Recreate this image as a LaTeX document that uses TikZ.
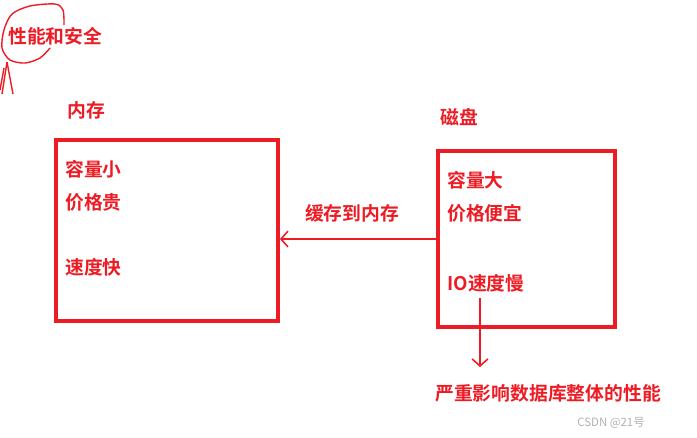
\documentclass[tikz,border=0pt]{standalone}
\usepackage{fontspec}
\setmainfont{Noto Sans CJK SC}[BoldFont={* Bold}]
\usetikzlibrary{arrows.meta,positioning}
\definecolor{paintred}{RGB}{237,28,36}
\tikzset{
  box/.style={draw=paintred, line width=2.2pt, inner sep=0pt},
  lbl/.style={anchor=west, inner sep=0pt, text=paintred, font=\fontsize{10.7}{12}\selectfont\bfseries},
  flow/.style={-{Straight Barb[length=4pt, width=9pt]}, paintred, line width=0.9pt},
  scribble/.style={paintred, line width=0.8pt},
}

\begin{document}
\begin{tikzpicture}[x=0.02cm, y=-0.02cm]
  \useasboundingbox (0,0) rectangle (697,437);

  % Note in the corner
  \node[lbl] (note) at (8,36) {性能和安全};
  \draw[scribble] plot[smooth] coordinates {(64,25) (63,10) (55,4) (30,6) (12,14) (4,30) (2,48) (10,60) (25,63) (40,58) (50,48)};
  \draw[scribble] (7,62) -- (2,94);
  \draw[scribble] (7,62) -- (13,94);
  \draw[scribble] (4,68) -- (0,90);

  % Memory
  \node[lbl] (memtitle) at (67,110) {内存};
  \node[box, minimum width=4.44cm, minimum height=3.62cm] (mem) at (167,230.5) {};
  \node[lbl] (memsize) at (65,169) {容量小};
  \node[lbl] (memprice) at (65,202) {价格贵};
  \node[lbl] (memspeed) at (65,267) {速度快};

  % Disk
  \node[lbl] (disktitle) at (440,117) {磁盘};
  \node[box, minimum width=3.54cm, minimum height=3.52cm] (disk) at (526.5,239) {};
  \node[lbl] (disksize) at (447,180) {容量大};
  \node[lbl] (diskprice) at (447,213) {价格便宜};
  \node[lbl] (diskspeed) at (447,283) {IO速度慢};

  % Connectors
  \draw[flow] (disk.west) -- (mem.east |- disk.west);
  \node[lbl, anchor=center] (cache) at (352,213) {缓存到内存};
  \coordinate (iofoot) at (480,298);
  \node[lbl] (impact) at (435,393) {严重影响数据库整体的性能};
  \draw[flow] (iofoot) -- (iofoot |- 0,367);

  % Watermark
  \node[anchor=west, inner sep=0pt, text=black!30, font=\fontsize{6.5}{8}\selectfont] (mark) at (577,423) {CSDN @21号};
\end{tikzpicture}
\end{document}
